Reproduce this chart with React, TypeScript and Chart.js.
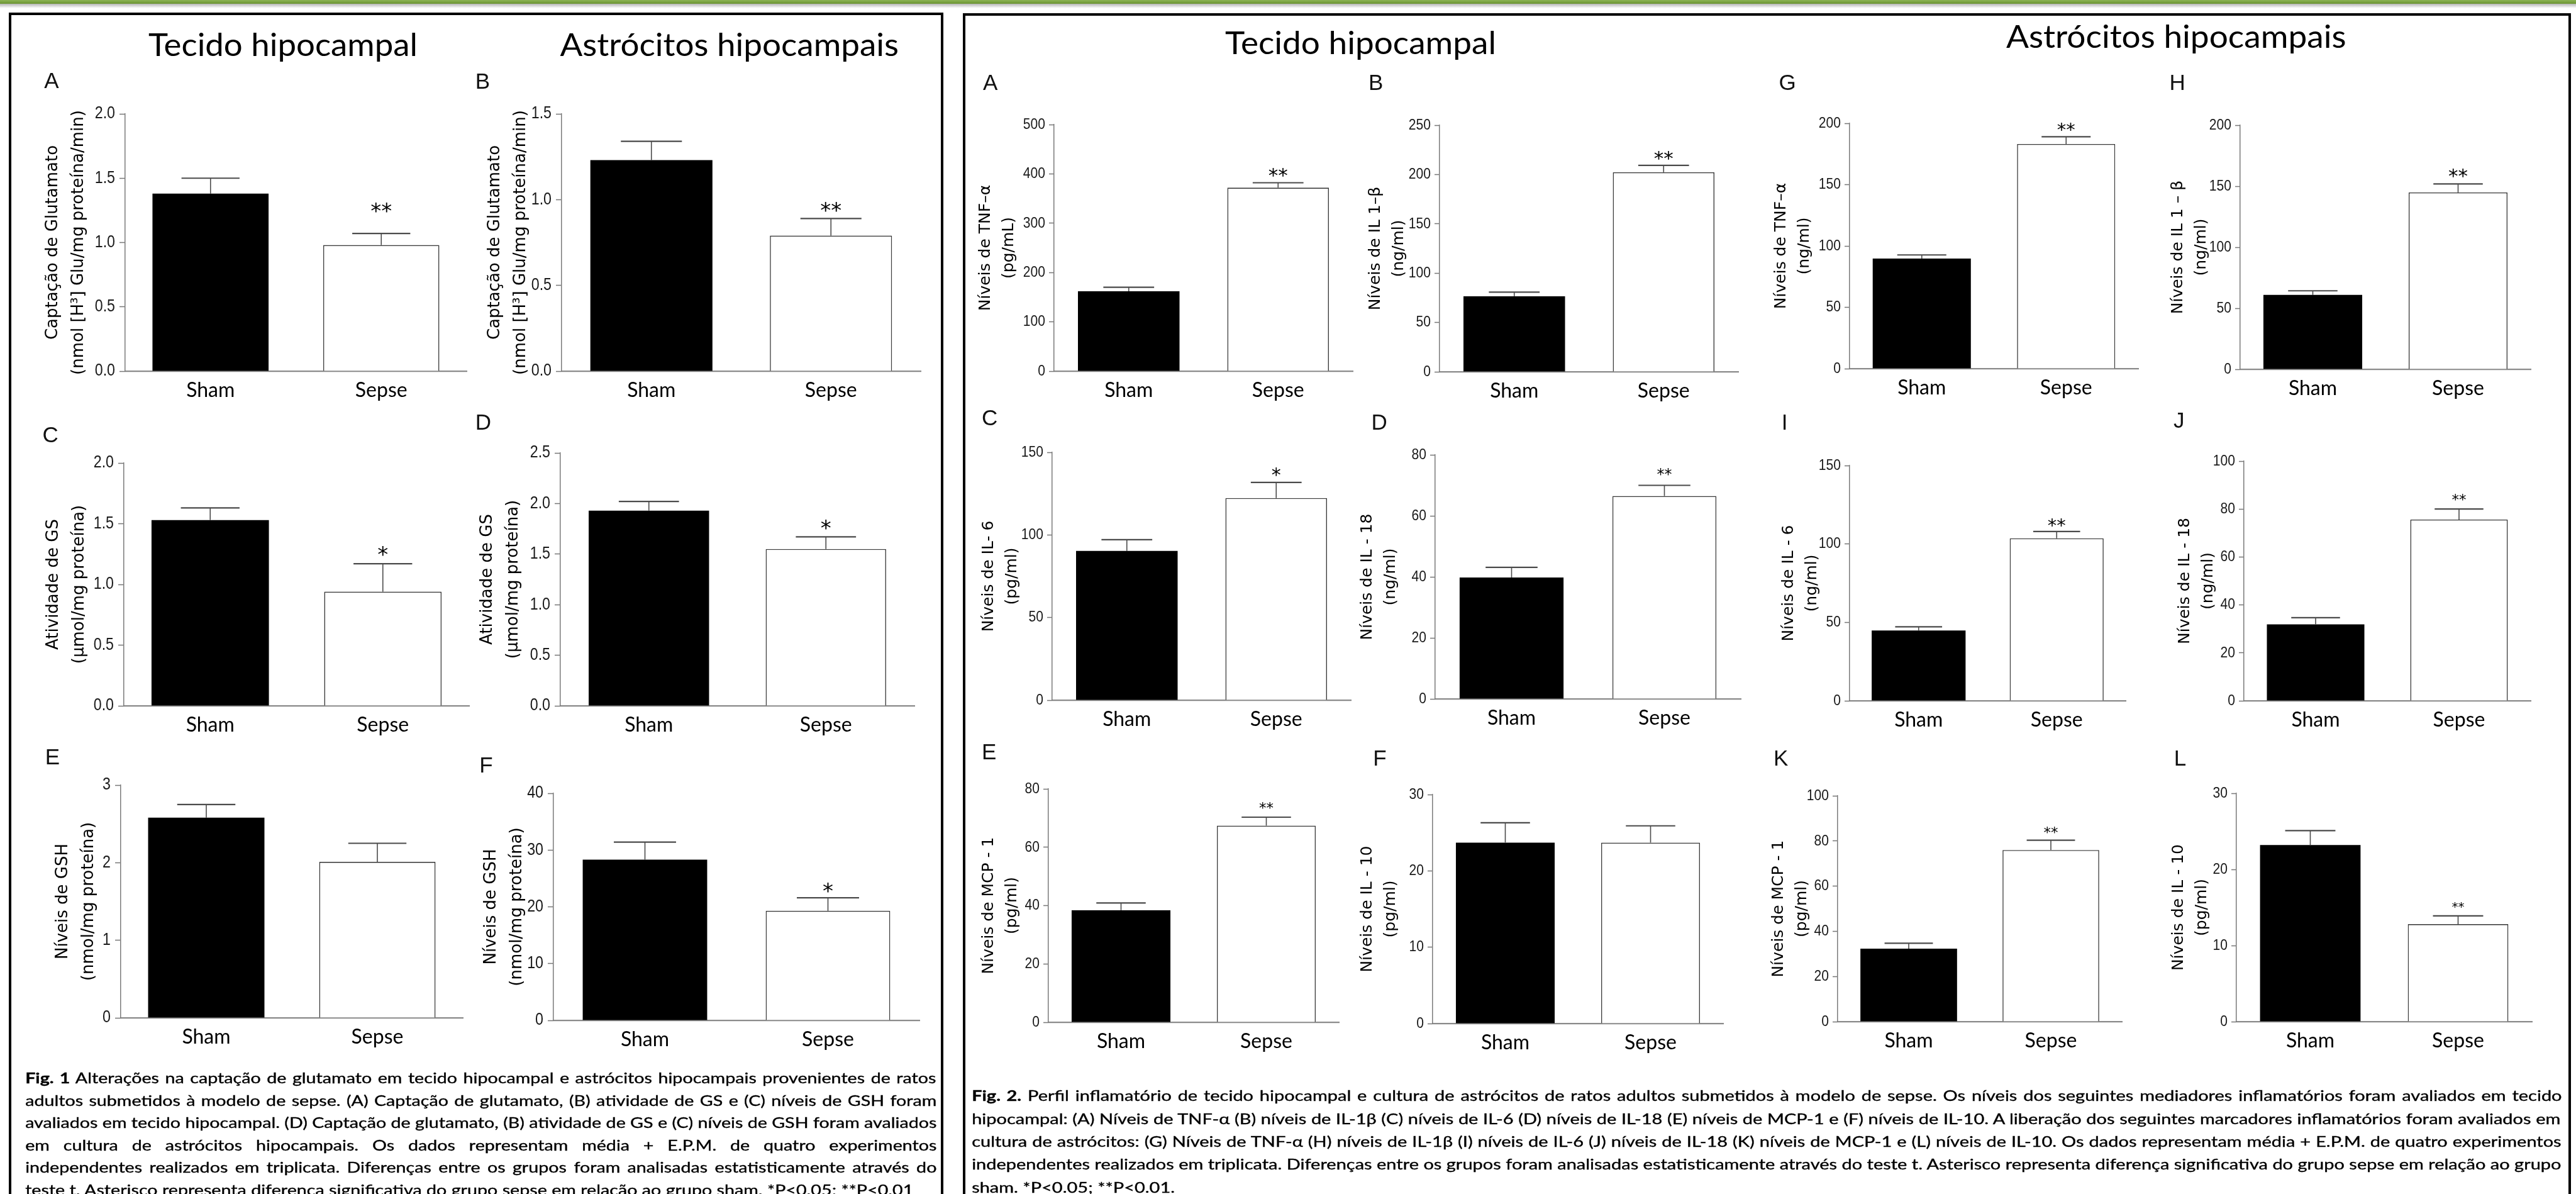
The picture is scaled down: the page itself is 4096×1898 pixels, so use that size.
import React, { useEffect, useRef } from "react";
import { Chart, registerables } from "chart.js";
Chart.register(...registerables);

const S = 0.717; // reference px -> window px
const W = 4096;
const H = 1898;

// ---------- data ----------
const GROUPS = ["Sham", "Sepse"];

// Fig. 1
const glutTissue = [1.38, 0.98];
const glutTissueErr = [0.12, 0.09];
const glutAstro = [1.23, 0.79];
const glutAstroErr = [0.11, 0.1];
const gsTissue = [1.53, 0.94];
const gsTissueErr = [0.1, 0.23];
const gsAstro = [1.93, 1.55];
const gsAstroErr = [0.09, 0.12];
const gshTissue = [2.58, 2.01];
const gshTissueErr = [0.17, 0.24];
const gshAstro = [28.3, 19.3];
const gshAstroErr = [3.1, 2.3];

// Fig. 2 – tecido hipocampal
const tnfTissue = [162, 372];
const tnfTissueErr = [8, 10];
const il1Tissue = [76.6, 202.3];
const il1TissueErr = [4.2, 7.0];
const il6Tissue = [90.3, 122.3];
const il6TissueErr = [6.8, 9.5];
const il18Tissue = [39.8, 66.5];
const il18TissueErr = [3.3, 3.5];
const mcpTissue = [38.4, 67.4];
const mcpTissueErr = [2.5, 2.9];
const il10Tissue = [23.7, 23.7];
const il10TissueErr = [2.6, 2.2];

// Fig. 2 – astrócitos hipocampais
const tnfAstro = [89.8, 183.1];
const tnfAstroErr = [2.9, 5.9];
const il1Astro = [60.9, 144.9];
const il1AstroErr = [3.4, 7.0];
const il6Astro = [44.8, 103.6];
const il6AstroErr = [2.4, 4.3];
const il18Astro = [31.9, 75.6];
const il18AstroErr = [2.8, 4.4];
const mcpAstro = [32.3, 76.0];
const mcpAstroErr = [2.4, 4.3];
const il10Astro = [23.2, 12.8];
const il10AstroErr = [1.9, 1.1];

// significance marks (Sham, Sepse)
const SIG_NONE = ["", ""];
const SIG_ONE = ["", "*"];
const SIG_TWO = ["", "**"];

// axis tick settings: [max, step, decimals]
const AX_GLUT_T = [2.0, 0.5, 1];
const AX_GLUT_A = [1.5, 0.5, 1];
const AX_GS_T = [2.0, 0.5, 1];
const AX_GS_A = [2.5, 0.5, 1];
const AX_GSH_T = [3, 1, 0];
const AX_GSH_A = [40, 10, 0];
const AX_TNF_T = [500, 100, 0];
const AX_IL1_T = [250, 50, 0];
const AX_IL6_T = [150, 50, 0];
const AX_IL18_T = [80, 20, 0];
const AX_MCP_T = [80, 20, 0];
const AX_IL10_T = [30, 10, 0];
const AX_TNF_A = [200, 50, 0];
const AX_IL1_A = [200, 50, 0];
const AX_IL6_A = [150, 50, 0];
const AX_IL18_A = [100, 20, 0];
const AX_MCP_A = [100, 20, 0];
const AX_IL10_A = [30, 10, 0];

// ---------- layout (reference px) ----------
type Panel = {
  letter: string; lx: number; lb: number;
  title: string[]; values: number[]; errors: number[]; marks: string[]; axis: number[];
  x0: number; x1: number; yTop: number; y0: number; tOff: number;
  fig: 1 | 2; star: number; gap: number;
};

const P = (o: Panel) => o;

const PANELS: Panel[] = [
  // Fig 1
  P({ letter: "A", lx: 98, lb: 195, title: ["Captação de Glutamato", "(nmol [H³] Glu/mg proteína/min)"], values: glutTissue, errors: glutTissueErr, marks: SIG_TWO, axis: AX_GLUT_T, x0: 277, x1: 1034, yTop: 253, y0: 823, tOff: 160, fig: 1, star: 34, gap: 44 }),
  P({ letter: "B", lx: 1054, lb: 197, title: ["Captação de Glutamato", "(nmol [H³] Glu/mg proteína/min)"], values: glutAstro, errors: glutAstroErr, marks: SIG_TWO, axis: AX_GLUT_A, x0: 1246, x1: 2043, yTop: 253, y0: 823, tOff: 148, fig: 1, star: 34, gap: 21 }),
  P({ letter: "C", lx: 94, lb: 980, title: ["Atividade de GS", "(µmol/mg proteína)"], values: gsTissue, errors: gsTissueErr, marks: SIG_ONE, axis: AX_GS_T, x0: 275, x1: 1040, yTop: 1027, y0: 1565, tOff: 156, fig: 1, star: 34, gap: 23 }),
  P({ letter: "D", lx: 1054, lb: 953, title: ["Atividade de GS", "(µmol/mg proteína)"], values: gsAstro, errors: gsAstroErr, marks: SIG_ONE, axis: AX_GS_A, x0: 1242, x1: 2027, yTop: 1004, y0: 1565, tOff: 162, fig: 1, star: 34, gap: 22 }),
  P({ letter: "E", lx: 100, lb: 1694, title: ["Níveis de GSH", "(nmol/mg proteína)"], values: gshTissue, errors: gshTissueErr, marks: SIG_NONE, axis: AX_GSH_T, x0: 268, x1: 1027, yTop: 1741, y0: 2257, tOff: 128, fig: 1, star: 34, gap: 20 }),
  P({ letter: "F", lx: 1063, lb: 1712, title: ["Níveis de GSH", "(nmol/mg proteína)"], values: gshAstro, errors: gshAstroErr, marks: SIG_ONE, axis: AX_GSH_A, x0: 1228, x1: 2040, yTop: 1759, y0: 2262, tOff: 138, fig: 1, star: 34, gap: 19 }),
  // Fig 2
  P({ letter: "A", lx: 2180, lb: 199, title: ["Níveis de TNF–α", "(pg/mL)"], values: tnfTissue, errors: tnfTissueErr, marks: SIG_TWO, axis: AX_TNF_T, x0: 2338, x1: 3000, yTop: 276.5, y0: 823, tOff: 151, fig: 2, star: 31, gap: 19 }),
  P({ letter: "B", lx: 3035, lb: 199, title: ["Níveis de IL 1–β", "(ng/ml)"], values: il1Tissue, errors: il1TissueErr, marks: SIG_TWO, axis: AX_IL1_T, x0: 3192, x1: 3855, yTop: 277, y0: 824, tOff: 142, fig: 2, star: 31, gap: 19 }),
  P({ letter: "G", lx: 3945, lb: 199, title: ["Níveis de TNF–α", "(ng/ml)"], values: tnfAstro, errors: tnfAstroErr, marks: SIG_TWO, axis: AX_TNF_A, x0: 4102, x1: 4742, yTop: 274, y0: 818, tOff: 152, fig: 2, star: 29, gap: 18 }),
  P({ letter: "H", lx: 4811, lb: 199, title: ["Níveis de IL 1 – β", "(ng/ml)"], values: il1Astro, errors: il1AstroErr, marks: SIG_TWO, axis: AX_IL1_A, x0: 4968, x1: 5612, yTop: 277, y0: 818, tOff: 138, fig: 2, star: 31, gap: 20 }),
  P({ letter: "C", lx: 2177, lb: 943, title: ["Níveis de IL- 6", "(pg/ml)"], values: il6Tissue, errors: il6TissueErr, marks: SIG_ONE, axis: AX_IL6_T, x0: 2333, x1: 2996, yTop: 1003, y0: 1553, tOff: 140, fig: 2, star: 30, gap: 19 }),
  P({ letter: "D", lx: 3041, lb: 952, title: ["Níveis de IL - 18", "(ng/ml)"], values: il18Tissue, errors: il18TissueErr, marks: SIG_TWO, axis: AX_IL18_T, x0: 3183, x1: 3861, yTop: 1009, y0: 1550, tOff: 150, fig: 2, star: 24, gap: 23 }),
  P({ letter: "I", lx: 3951, lb: 952, title: ["Níveis de IL - 6", "(ng/ml)"], values: il6Astro, errors: il6AstroErr, marks: SIG_TWO, axis: AX_IL6_A, x0: 4102, x1: 4714, yTop: 1032, y0: 1553, tOff: 134, fig: 2, star: 29, gap: 17 }),
  P({ letter: "J", lx: 4820, lb: 949, title: ["Níveis de IL - 18", "(ng/ml)"], values: il18Astro, errors: il18AstroErr, marks: SIG_TWO, axis: AX_IL18_A, x0: 4976, x1: 5612, yTop: 1023, y0: 1554, tOff: 130, fig: 2, star: 23, gap: 20 }),
  P({ letter: "E", lx: 2177, lb: 1684, title: ["Níveis de MCP - 1", "(pg/ml)"], values: mcpTissue, errors: mcpTissueErr, marks: SIG_TWO, axis: AX_MCP_T, x0: 2325, x1: 2970, yTop: 1749, y0: 2267, tOff: 132, fig: 2, star: 23, gap: 20 }),
  P({ letter: "F", lx: 3045, lb: 1698, title: ["Níveis de IL - 10", "(pg/ml)"], values: il10Tissue, errors: il10TissueErr, marks: SIG_NONE, axis: AX_IL10_T, x0: 3177, x1: 3822, yTop: 1761, y0: 2268, tOff: 144, fig: 2, star: 23, gap: 20 }),
  P({ letter: "K", lx: 3933, lb: 1698, title: ["Níveis de MCP - 1", "(pg/ml)"], values: mcpAstro, errors: mcpAstroErr, marks: SIG_TWO, axis: AX_MCP_A, x0: 4075, x1: 4705, yTop: 1764, y0: 2265, tOff: 130, fig: 2, star: 23, gap: 18 }),
  P({ letter: "L", lx: 4821, lb: 1698, title: ["Níveis de IL - 10", "(pg/ml)"], values: il10Astro, errors: il10AstroErr, marks: SIG_TWO, axis: AX_IL10_A, x0: 4960, x1: 5615, yTop: 1759, y0: 2265, tOff: 128, fig: 2, star: 20, gap: 19 }),
];

const FIG1_CAPTION: [string, string][] = [
  ["Fig. 1", " Alterações na captação de glutamato em tecido hipocampal e astrócitos hipocampais provenientes de ratos"],
  ["", "adultos submetidos à modelo de sepse. (A) Captação de glutamato, (B) atividade de GS e (C) níveis de GSH foram"],
  ["", "avaliados em tecido hipocampal. (D) Captação de glutamato, (B) atividade de GS e (C) níveis de GSH foram avaliados"],
  ["", "em cultura de astrócitos hipocampais. Os dados representam média + E.P.M. de quatro experimentos"],
  ["", "independentes realizados em triplicata. Diferenças entre os grupos foram analisadas estatisticamente através do"],
  ["", "teste t. Asterisco representa diferença significativa do grupo sepse em relação ao grupo sham. *P<0.05; **P<0.01"],
];

const FIG2_CAPTION: [string, string][] = [
  ["Fig. 2.", " Perfil inflamatório de tecido hipocampal e cultura de astrócitos de ratos adultos submetidos à modelo de sepse. Os níveis dos seguintes mediadores inflamatórios foram avaliados em tecido"],
  ["", "hipocampal: (A) Níveis de TNF-α (B) níveis de IL-1β (C) níveis de IL-6 (D) níveis de IL-18 (E) níveis de MCP-1 e (F) níveis de IL-10. A liberação dos seguintes marcadores inflamatórios foram avaliados em"],
  ["", "cultura de astrócitos: (G) Níveis de TNF-α (H) níveis de IL-1β (I) níveis de IL-6 (J) níveis de IL-18 (K) níveis de MCP-1 e (L) níveis de IL-10. Os dados representam média + E.P.M. de quatro experimentos"],
  ["", "independentes realizados em triplicata. Diferenças entre os grupos foram analisadas estatisticamente através do teste t. Asterisco representa diferença significativa do grupo sepse em relação ao grupo"],
  ["", "sham. *P<0.05; **P<0.01."],
];

// ---------- chart ----------
const AXW = 160, PT = 40, PR = 12, AXH = 60;
const TICK_CONDENSE = 0.86;

function BarPanel({ p }: { p: Panel }) {
  const ref = useRef<HTMLCanvasElement>(null);
  const x0 = p.x0 * S, x1 = p.x1 * S, yT = p.yTop * S, yB = p.y0 * S;
  const left = Math.round(x0 - AXW);
  const top = Math.round(yT - PT);
  const width = Math.round(x1 - x0 + AXW + PR);
  const height = Math.round(yB - yT + PT + AXH);

  useEffect(() => {
    if (!ref.current) return;
    const f1 = p.fig === 1;
    const tSize = f1 ? 26 : 25;
    const lh = f1 ? 41 : 37;
    const off1 = p.tOff * S;
    const padTop = AXW - off1 - lh / 2;
    const tickLen = f1 ? 9 : 8;
    const tickPad = f1 ? 7 : 6;
    const [max, step, dec] = p.axis;
    const errPlugin = {
      id: "errbars",
      afterDatasetsDraw(chart: any) {
        const ctx = chart.ctx;
        const ys = chart.scales.y;
        const meta = chart.getDatasetMeta(0);
        meta.data.forEach((bar: any, i: number) => {
          const v = p.values[i], e = p.errors[i];
          const yv = ys.getPixelForValue(v);
          const ye = ys.getPixelForValue(v + e);
          const hw = bar.width / 4;
          ctx.save();
          ctx.strokeStyle = "#4a4a4a";
          ctx.lineWidth = 1.6;
          ctx.beginPath();
          ctx.moveTo(bar.x, yv);
          ctx.lineTo(bar.x, ye);
          ctx.stroke();
          ctx.lineWidth = 2.2;
          ctx.beginPath();
          ctx.moveTo(bar.x - hw, ye);
          ctx.lineTo(bar.x + hw, ye);
          ctx.stroke();
          const mark = p.marks[i];
          if (mark) {
            ctx.fillStyle = "#000";
            ctx.font = `${p.star}px "DejaVu Sans"`;
            ctx.textAlign = "center";
            ctx.textBaseline = "alphabetic";
            const cy = ye - p.gap;
            ctx.fillText(mark, bar.x, cy + 0.575 * p.star);
          }
          ctx.restore();
        });
      },
    };
    const chart = new Chart(ref.current, {
      type: "bar",
      data: {
        labels: GROUPS,
        datasets: [
          {
            data: p.values,
            backgroundColor: ["#000000", "#ffffff"],
            borderColor: ["#000000", "#3a3a3a"],
            borderWidth: [0, 1.6],
            barPercentage: 0.68,
            categoryPercentage: 1,
          },
        ],
      },
      options: {
        responsive: false,
        animation: false,
        events: [],
        layout: { padding: { top: PT, right: PR, left: 0, bottom: 0 } },
        plugins: { legend: { display: false }, tooltip: { enabled: false }, title: { display: false } },
        scales: {
          x: {
            grid: { display: false, drawTicks: false },
            border: { display: true, color: "#8a8a8a", width: 2.2 },
            ticks: { color: "#000", font: { family: "Lato", size: 32 }, padding: 11 },
            afterFit: (s: any) => { s.height = AXH; },
          },
          y: {
            min: 0,
            max,
            ticks: {
              stepSize: step,
              callback: (v: any) => Number(v).toFixed(dec),
              color: "#1a1a1a",
              font: { family: '"Liberation Sans"', size: f1 ? 27 : 24.5 },
              padding: tickPad,
            },
            grid: {
              drawOnChartArea: false,
              drawTicks: true,
              tickLength: tickLen,
              tickColor: "#777",
              tickWidth: 1.5,
            },
            border: { display: true, color: "#7a7a7a", width: 1.5 },
            title: {
              display: true,
              text: p.title,
              color: "#000",
              font: { family: '"DejaVu Sans"', size: tSize, lineHeight: lh / tSize },
              padding: { top: padTop, bottom: 0 },
            },
            afterFit: (s: any) => {
              s.width = AXW;
              if (!s.__condensed) {
                s.__condensed = true;
                const orig = s.drawLabels.bind(s);
                s.drawLabels = (area: any) => {
                  const ctx = s.ctx;
                  const xr = s.right - tickLen - tickPad;
                  ctx.save();
                  ctx.translate(xr, 0);
                  ctx.scale(TICK_CONDENSE, 1);
                  ctx.translate(-xr, 0);
                  orig(area);
                  ctx.restore();
                };
              }
            },
          },
        },
      } as any,
      plugins: [errPlugin],
    });
    return () => chart.destroy();
  }, []);

  return (
    <canvas
      ref={ref}
      width={width}
      height={height}
      style={{ position: "absolute", left, top, width, height }}
    />
  );
}

// ---------- caption text ----------
let mctx: CanvasRenderingContext2D | null = null;
function textWidth(t: string, font: string) {
  if (!mctx) mctx = document.createElement("canvas").getContext("2d");
  mctx!.font = font;
  return mctx!.measureText(t).width;
}

function Caption({ lines, x, width, base, pitch }: { lines: [string, string][]; x: number; width: number; base: number; pitch: number }) {
  const size = 22.5;
  const fam = "Lato";
  const reg = `${size}px ${fam}`;
  const bold = `bold ${size}px ${fam}`;
  const info = lines.map(([b, r], i) => {
    const w = (b ? textWidth(b, bold) : 0) + textWidth(r, reg);
    const spaces = (b + r).split(" ").length - 1;
    return { b, r, w, spaces, justify: i < lines.length - 1 };
  });
  const s = Math.min(...info.filter((l) => l.justify).map((l) => width / l.w));
  return (
    <g>
      {info.map((l, i) => {
        const ws = l.justify ? (width - l.w * s) / (l.spaces * s) : 0;
        return (
          <text
            key={i}
            transform={`translate(${x},${base + i * pitch}) scale(${s},1)`}
            fontFamily={fam}
            fontSize={size}
            fill="#000"
            stroke="#000"
            strokeWidth={0.35}
            style={{ wordSpacing: `${ws}px`, whiteSpace: "pre" }}
          >
            {l.b ? <tspan fontWeight="bold">{l.b}</tspan> : null}
            {l.r}
          </text>
        );
      })}
    </g>
  );
}

function Heading({ text, x, w, base }: { text: string; x: number; w: number; base: number }) {
  return (
    <text x={x * S} y={base * S} fontFamily="Lato" fontSize={51} fill="#000" textLength={w * S} lengthAdjust="spacingAndGlyphs">
      {text}
    </text>
  );
}

export default function App() {
  return (
    <div style={{ position: "fixed", left: 0, top: 0, width: W, height: H, overflow: "hidden", background: "#fff" }}>
      {/* top stripe */}
      <div style={{ position: "absolute", left: 0, top: 0, width: W, height: 6, background: "linear-gradient(#8db455, #6a9331)" }} />
      <div style={{ position: "absolute", left: 0, top: 6, width: W, height: 7, background: "linear-gradient(#b5b5b5, #ffffff)" }} />
      {/* panel boxes */}
      <div style={{ position: "absolute", left: 14, top: 20, width: 1500 - 14, height: H, border: "4px solid #000", boxSizing: "border-box" }} />
      <div style={{ position: "absolute", left: 1531, top: 21, width: 4088 - 1531, height: H, border: "4px solid #000", boxSizing: "border-box" }} />

      {PANELS.map((p, i) => (
        <BarPanel key={i} p={p} />
      ))}

      <svg width={W} height={H} style={{ position: "absolute", left: 0, top: 0, pointerEvents: "none" }}>
        <Heading text="Tecido hipocampal" x={329} w={597} base={124} />
        <Heading text="Astrócitos hipocampais" x={1242} w={751} base={124} />
        <Heading text="Tecido hipocampal" x={2717} w={601} base={120} />
        <Heading text="Astrócitos hipocampais" x={4449} w={754} base={106} />
        {PANELS.map((p, i) => (
          <text key={i} x={p.lx * S} y={p.lb * S} fontFamily='"Liberation Sans"' fontSize={35} fill="#111">
            {p.letter}
          </text>
        ))}
        <Caption lines={FIG1_CAPTION} x={56 * S} width={(2078 - 56) * S} base={2402 * S} pitch={49.5 * S} />
        <Caption lines={FIG2_CAPTION} x={2155 * S} width={(5683 - 2155) * S} base={2441 * S} pitch={50.7 * S} />
      </svg>
    </div>
  );
}
